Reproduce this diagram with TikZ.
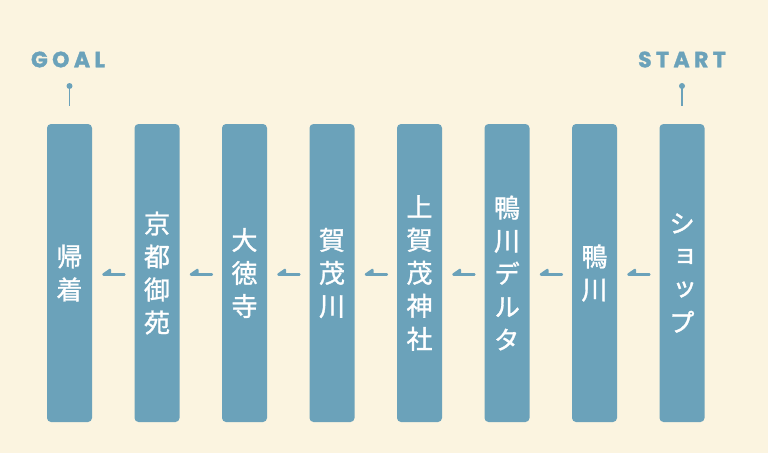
\documentclass[tikz,border=0pt]{standalone}
\usepackage{fontspec}
\usetikzlibrary{arrows.meta}
\newfontfamily\jpfont[RawFeature=+vert, FakeBold=1.2]{Noto Sans CJK JP}
\newfontfamily\tagfont[LetterSpace=20, FakeBold=1.5]{Poppins}
\definecolor{cream}{HTML}{FBF4E0}
\definecolor{steel}{HTML}{6BA2BA}
\begin{document}
\begin{tikzpicture}[x=1pt,y=-1pt,
  stop/.style={fill=steel, rounded corners=4pt, minimum width=45pt,
    minimum height=298pt, inner sep=0pt, text=white, align=center,
    font=\jpfont\fontsize{26}{33}\selectfont},
  tag/.style={text=steel, font=\tagfont\bfseries\fontsize{22}{22}\selectfont, inner sep=0pt},
  flow/.style={draw=steel, line width=2.8pt, line cap=round,
    -{Triangle[right, length=10pt, width=13pt, round]},
    shorten >=10pt, shorten <=10pt}]
  \fill[cream] (0,0) rectangle (768,453);
  \useasboundingbox (0,0) rectangle (768,453);

  \node (home)   at (69.5,273) [stop] {帰\\着};
  \node (gosho)  at (157,273)  [stop] {京\\都\\御\\苑};
  \node (daitok) at (244.5,273)[stop] {大\\徳\\寺};
  \node (river)  at (332,273)  [stop] {賀\\茂\\川};
  \node (jinja)  at (419.5,273)[stop] {上\\賀\\茂\\神\\社};
  \node (delta)  at (507,273)  [stop] {鴨\\川\\デ\\ル\\タ};
  \node (kamo)   at (594.5,273)[stop] {鴨\\川};
  \node (shop)   at (682,273)  [stop] {シ\\ョ\\ッ\\プ};

  \draw[flow] ([yshift=-1.5pt]shop.west)   -- ([yshift=-1.5pt]kamo.east);
  \draw[flow] ([yshift=-1.5pt]kamo.west)   -- ([yshift=-1.5pt]delta.east);
  \draw[flow] ([yshift=-1.5pt]delta.west)  -- ([yshift=-1.5pt]jinja.east);
  \draw[flow] ([yshift=-1.5pt]jinja.west)  -- ([yshift=-1.5pt]river.east);
  \draw[flow] ([yshift=-1.5pt]river.west)  -- ([yshift=-1.5pt]daitok.east);
  \draw[flow] ([yshift=-1.5pt]daitok.west) -- ([yshift=-1.5pt]gosho.east);
  \draw[flow] ([yshift=-1.5pt]gosho.west)  -- ([yshift=-1.5pt]home.east);

  % start / goal markers
  \node (goal)  at (68,59.5)  [tag] {GOAL};
  \node (start) at (682,59.5) [tag] {START};
  \coordinate (gpin) at (69.5,86);
  \coordinate (spin) at (682,86);
  \draw[steel, line width=1.6pt] (gpin) -- (gpin |- 0,106);
  \draw[steel, line width=1.6pt] (spin) -- (spin |- 0,106);
  \fill[steel] (gpin) circle (3);
  \fill[steel] (spin) circle (3);
\end{tikzpicture}
\end{document}
